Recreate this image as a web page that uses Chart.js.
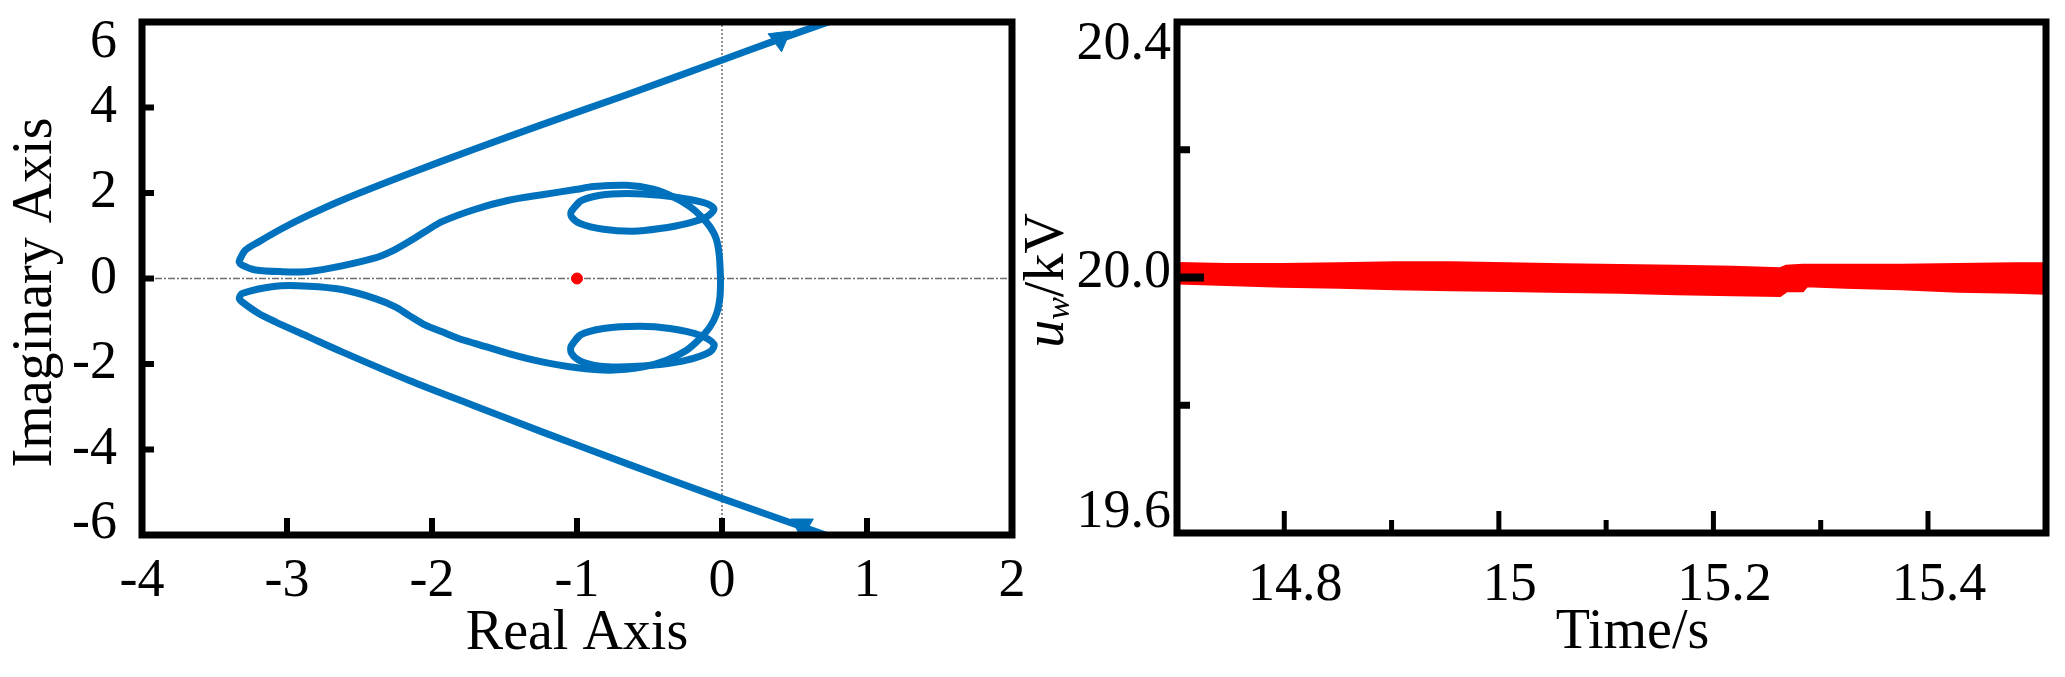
<!DOCTYPE html>
<html>
<head>
<meta charset="utf-8">
<script src="https://cdn.jsdelivr.net/npm/chart.js@4.4.0/dist/chart.umd.min.js"></script>
<style>
  html, body { margin: 0; padding: 0; background: #fff; }
  .pane { position: absolute; top: 0; }
</style>
</head>
<body>
<div class="pane" style="left:0px"><canvas id="locus" width="1040" height="677"></canvas></div>
<div class="pane" style="left:1000px"><canvas id="volt" width="1065" height="677"></canvas></div>
<script>
// ---- root locus (left) ----
const realRange = [-4, 2];
const imagRange = [-6, 6];

const upperBranch = [
  [0.75, 6.02], [0.377, 5.575], [0.002, 5.11], [-0.657, 4.30], [-1.241, 3.60],
  [-1.701, 3.035], [-2.161, 2.45], [-2.621, 1.832], [-2.851, 1.481], [-3.034, 1.169],
  [-3.195, 0.857], [-3.287, 0.662], [-3.322, 0.468], [-3.33, 0.39], [-3.31, 0.311],
  [-3.218, 0.2], [-3.034, 0.16], [-2.851, 0.165], [-2.621, 0.296], [-2.391, 0.48],
  [-2.276, 0.64], [-2.161, 0.86], [-2.046, 1.10], [-1.931, 1.33], [-1.701, 1.62],
  [-1.471, 1.83], [-1.241, 1.96], [-1.011, 2.08], [-0.887, 2.15], [-0.657, 2.18],
  [-0.474, 2.09], [-0.336, 1.91], [-0.221, 1.68], [-0.14, 1.44], [-0.083, 1.21],
  [-0.041, 0.94], [-0.019, 0.55], [-0.01, 0]
];
const lowerBranch = [
  [0.75, -6.04], [0.002, -5.15], [-0.657, -4.33], [-1.241, -3.588], [-1.701, -2.987],
  [-2.161, -2.379], [-2.621, -1.716], [-2.851, -1.365], [-3.08, -1.014], [-3.195, -0.819],
  [-3.31, -0.547], [-3.329, -0.469], [-3.31, -0.352], [-3.08, -0.18], [-2.851, -0.18],
  [-2.621, -0.258], [-2.391, -0.469], [-2.253, -0.664], [-2.161, -0.858], [-2.046, -1.092],
  [-1.931, -1.248], [-1.816, -1.404], [-1.701, -1.521], [-1.471, -1.755], [-1.241, -1.95],
  [-1.011, -2.083], [-0.772, -2.145], [-0.543, -2.067], [-0.382, -1.911], [-0.244, -1.677],
  [-0.152, -1.404], [-0.083, -1.131], [-0.037, -0.819], [-0.014, -0.43], [-0.01, 0]
];
const upperLoop = [
  [-1.041, 1.559], [-0.979, 1.808], [-0.841, 1.949], [-0.657, 1.988], [-0.428, 1.949],
  [-0.221, 1.847], [-0.094, 1.738], [-0.055, 1.621], [-0.106, 1.442], [-0.244, 1.286],
  [-0.428, 1.169], [-0.612, 1.106], [-0.818, 1.153], [-0.979, 1.286], [-1.037, 1.442],
  [-1.041, 1.559], [-0.979, 1.808]
];
const lowerLoop = [
  [-1.041, -1.584], [-0.979, -1.326], [-0.818, -1.17], [-0.566, -1.116], [-0.359, -1.17],
  [-0.152, -1.326], [-0.055, -1.537], [-0.083, -1.716], [-0.244, -1.911], [-0.428, -2.012],
  [-0.657, -2.067], [-0.841, -2.051], [-0.979, -1.927], [-1.037, -1.755], [-1.041, -1.584],
  [-0.979, -1.326]
];
const zeroMark = [[-1, 0]];
const arrowPts = [[0.40, 5.605], [0.552, -5.778]];
const arrowRot = [173, 180];
const realAxisLine = [[-4, 0], [2, 0]];
const imagAxisLine = [[0, -6], [0, 6]];

// ---- voltage (right) ----
const timeRange = [14.7, 15.51];
const uwRange = [19.6, 20.4];
const uwTime  = [14.70, 14.746, 14.798, 14.851, 14.903, 14.956, 15.008, 15.061, 15.113, 15.165,
                 15.218, 15.262, 15.268, 15.283, 15.287, 15.323, 15.375, 15.428, 15.48, 15.51];
const uwUpper = [20.021, 20.0196, 20.0196, 20.0206, 20.0222, 20.0222, 20.0206, 20.0191, 20.018, 20.017,
                 20.0154, 20.0128, 20.017, 20.0185, 20.0185, 20.0185, 20.0185, 20.0196, 20.0206, 20.0206];
const uwLower = [19.992, 19.9898, 19.9872, 19.9857, 19.983, 19.9815, 19.9804, 19.9789, 19.9778, 19.9752,
                 19.9737, 19.9726, 19.98, 19.98, 19.988, 19.9857, 19.983, 19.9794, 19.9778, 19.9763];

const BLUE = '#0072BD';
const SERIF = '"Liberation Serif", "Times New Roman", serif';
Chart.defaults.font.family = SERIF;
Chart.defaults.color = '#000';

const toXY = arr => arr.map(p => ({ x: p[0], y: p[1] }));

// ticks drawn inward + heavy frame
function innerTicks(spec) {
  return {
    id: 'innerTicks',
    afterDatasetsDraw(chart) {
      const { ctx, chartArea: a } = chart;
      ctx.save();
      ctx.strokeStyle = '#000';
      ['x', 'y'].forEach(id => {
        const scale = chart.scales[id];
        scale.ticks.forEach(t => {
          const mark = spec[id](t.value);
          if (!mark) return;
          const p = scale.getPixelForValue(t.value);
          ctx.lineWidth = mark[1];
          ctx.beginPath();
          if (id === 'x') { ctx.moveTo(p, a.bottom); ctx.lineTo(p, a.bottom - mark[0]); }
          else { ctx.moveTo(a.left, p); ctx.lineTo(a.left + mark[0], p); }
          ctx.stroke();
        });
      });
      ctx.lineWidth = 7;
      ctx.strokeRect(a.left, a.top, a.right - a.left, a.bottom - a.top);
      ctx.restore();
    }
  };
}

const fixSize = (w, h) => s => {
  if (w !== null) s.width = w;
  if (h !== null) s.height = h;
  s.paddingLeft = 0; s.paddingRight = 0; s.paddingTop = 0; s.paddingBottom = 0;
};

const tickFont = { size: 54, lineHeight: 1.2 };
const titleFont = { size: 56, lineHeight: 1.2 };

// end labels sit a little inside the frame, as in the source figure
const shiftedLabel = (text, shift) => shift > 0 ? ['', text] : (shift < 0 ? [text, ''] : text);
const shiftedFont = shift => shift === 0 ? tickFont : { size: 54, lineHeight: (Math.abs(shift) * 2) / 54 };
const tickValue = c => (c && c.tick) ? c.tick.value : null;

const imagShift = { '6': 21, '-6': -11 };
const uwShift = { '20.4': 23, '20.0': -5, '19.6': -20 };

const curve = (data) => ({
  data: toXY(data), showLine: true, borderColor: BLUE, borderWidth: 7,
  pointRadius: 0, tension: 0.3, fill: false
});

new Chart(document.getElementById('locus'), {
  type: 'scatter',
  data: {
    datasets: [
      { data: toXY(arrowPts), showLine: false, pointStyle: 'triangle', pointRadius: 13,
        pointRotation: c => arrowRot[c.dataIndex] || 0, backgroundColor: BLUE, borderColor: BLUE, borderWidth: 1 },
      { data: toXY(zeroMark), showLine: false, pointStyle: 'circle', pointRadius: 5.5,
        backgroundColor: '#ff0000', borderColor: '#ff0000', borderWidth: 1 },
      curve(upperBranch),
      curve(lowerBranch),
      curve(upperLoop),
      curve(lowerLoop),
      { data: toXY(realAxisLine), showLine: true, borderColor: '#6e6e6e', borderWidth: 1.5,
        borderDash: [7, 2, 2, 2], pointRadius: 0 },
      { data: toXY(imagAxisLine), showLine: true, borderColor: '#6e6e6e', borderWidth: 1.5,
        borderDash: [2, 2], pointRadius: 0 }
    ]
  },
  options: {
    responsive: false, animation: false, events: [],
    layout: { padding: { left: 0, top: 22, right: 28, bottom: 0 } },
    plugins: { legend: { display: false }, tooltip: { enabled: false } },
    scales: {
      x: {
        type: 'linear', min: realRange[0], max: realRange[1],
        grid: { display: false, drawTicks: false }, border: { display: false },
        ticks: { stepSize: 1, font: tickFont, padding: 14, autoSkip: false, maxRotation: 0, minRotation: 0 },
        title: { display: true, text: 'Real Axis', font: titleFont, padding: { top: 0, bottom: 9 } },
        afterFit: fixSize(null, 142)
      },
      y: {
        type: 'linear', min: imagRange[0], max: imagRange[1],
        grid: { display: false, drawTicks: false }, border: { display: false },
        ticks: {
          stepSize: 2, padding: 25, autoSkip: false,
          font: c => { const v = tickValue(c); return v === null ? tickFont : shiftedFont(imagShift[String(v)] || 0); },
          callback: v => shiftedLabel(String(v), imagShift[String(v)] || 0)
        },
        title: { display: true, text: 'Imaginary Axis  ', font: titleFont, padding: { top: 3, bottom: 0 } },
        afterFit: fixSize(142, null)
      }
    }
  },
  plugins: [innerTicks({
    x: v => (v > realRange[0] && v < realRange[1]) ? [17, 6] : null,
    y: v => (v > imagRange[0] && v < imagRange[1]) ? [12, 6] : null
  })]
});

const uwTitle = {
  id: 'uwTitle',
  afterDraw(chart) {
    const ctx = chart.ctx;
    const parts = [
      ['italic 56px ' + SERIF, 'u', 0],
      ['italic 34px ' + SERIF, 'w', 6],
      ['56px ' + SERIF, '/kV', 0]
    ];
    ctx.save();
    let total = 0;
    parts.forEach(p => { ctx.font = p[0]; total += ctx.measureText(p[1]).width; });
    const cy = (chart.chartArea.top + chart.chartArea.bottom) / 2 + 3;
    ctx.translate(63, cy + total / 2);
    ctx.rotate(-Math.PI / 2);
    ctx.fillStyle = '#000';
    ctx.textBaseline = 'alphabetic';
    let x = 0;
    parts.forEach(p => { ctx.font = p[0]; ctx.fillText(p[1], x, p[2]); x += ctx.measureText(p[1]).width; });
    ctx.restore();
  }
};

const uwLabel = v => { const k = Math.round(v * 10); return (k % 4 === 0) ? (k / 10).toFixed(1) : ''; };

new Chart(document.getElementById('volt'), {
  type: 'scatter',
  data: {
    datasets: [
      { data: uwTime.map((t, i) => ({ x: t, y: uwUpper[i] })), showLine: true,
        borderColor: '#ff0000', borderWidth: 4, pointRadius: 0, fill: false },
      { data: uwTime.map((t, i) => ({ x: t, y: uwLower[i] })), showLine: true,
        borderColor: '#ff0000', borderWidth: 4, pointRadius: 0, fill: '-1', backgroundColor: '#ff0000' }
    ]
  },
  options: {
    responsive: false, animation: false, events: [],
    layout: { padding: { left: 0, top: 22, right: 19, bottom: 0 } },
    plugins: { legend: { display: false }, tooltip: { enabled: false } },
    scales: {
      x: {
        type: 'linear', min: timeRange[0], max: timeRange[1],
        grid: { display: false, drawTicks: false }, border: { display: false },
        ticks: {
          stepSize: 0.1, font: tickFont, padding: 20, labelOffset: 11, autoSkip: false, maxRotation: 0, minRotation: 0,
          callback: v => { const k = Math.round(v * 100); return (k % 20 === 0 && k >= 1480 && k <= 1540) ? String(k / 100) : ''; }
        },
        title: { display: true, text: '   Time/s', font: titleFont, padding: { top: 0, bottom: 10 } },
        afterFit: fixSize(null, 144)
      },
      y: {
        type: 'linear', min: uwRange[0], max: uwRange[1],
        grid: { display: false, drawTicks: false }, border: { display: false },
        ticks: {
          stepSize: 0.2, padding: 6, autoSkip: false,
          font: c => { const v = tickValue(c); return v === null ? tickFont : shiftedFont(uwShift[uwLabel(v)] || 0); },
          callback: v => { const s = uwLabel(v); return s ? shiftedLabel(s, uwShift[s] || 0) : ''; }
        },
        title: { display: false },
        afterFit: fixSize(177, null)
      }
    }
  },
  plugins: [innerTicks({
    x: v => { const k = Math.round(v * 10); if (k < 148 || k > 154) return null; return k % 2 === 0 ? [22, 5] : [13, 5]; },
    y: v => { const k = Math.round(v * 10); if (k === 200) return [27, 8]; if (k === 198 || k === 202) return [13, 7]; return null; }
  }), uwTitle]
});
</script>
</body>
</html>
